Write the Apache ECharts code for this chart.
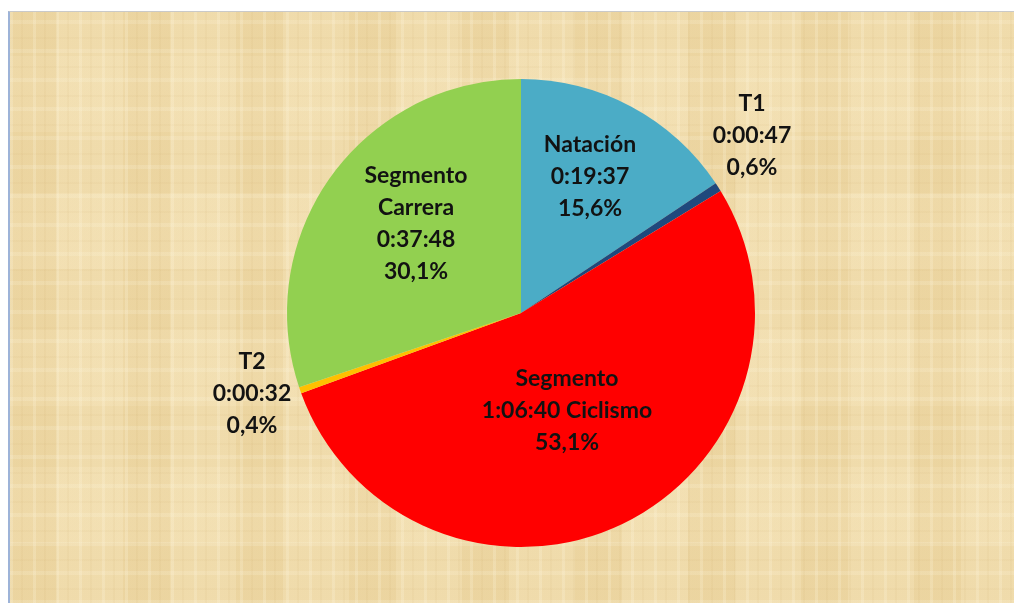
<!DOCTYPE html>
<html>
<head>
<meta charset="utf-8">
<script src="https://cdn.jsdelivr.net/npm/echarts@6/dist/echarts.min.js"></script>
<style>
  html, body { margin: 0; padding: 0; background: #ffffff; width: 1014px; height: 603px; overflow: hidden; }
  #frame {
    position: absolute; left: 8px; top: 11px; width: 1006px; height: 592px;
    border-left: 2px solid #9db3d8; border-top: 1px solid #c9c9c9;
    background-color: #efdbab;
    background-image:
      repeating-linear-gradient(90deg, rgba(255,248,225,0.22) 0px, rgba(255,248,225,0.22) 3px, rgba(0,0,0,0) 3px, rgba(0,0,0,0) 11px, rgba(190,150,80,0.06) 11px, rgba(190,150,80,0.06) 13px, rgba(0,0,0,0) 13px, rgba(0,0,0,0) 23px),
      repeating-linear-gradient(0deg, rgba(255,248,225,0.18) 0px, rgba(255,248,225,0.18) 4px, rgba(0,0,0,0) 4px, rgba(0,0,0,0) 14px, rgba(190,150,80,0.05) 14px, rgba(190,150,80,0.05) 16px, rgba(0,0,0,0) 16px, rgba(0,0,0,0) 29px),
      repeating-linear-gradient(90deg, rgba(228,198,135,0.18) 0px, rgba(228,198,135,0.18) 47px, rgba(250,234,195,0.18) 47px, rgba(250,234,195,0.18) 113px),
      repeating-linear-gradient(0deg, rgba(228,198,135,0.14) 0px, rgba(228,198,135,0.14) 61px, rgba(250,234,195,0.14) 61px, rgba(250,234,195,0.14) 137px);
  }
  #chart { position: absolute; left: 0; top: 0; width: 1006px; height: 592px; }
</style>
</head>
<body>
<div id="frame"><div id="chart"></div></div>
<script>
// ---- data ----
var categories = ["Natación", "T1", "Ciclismo", "T2", "Carrera"];
var times = ["0:19:37", "0:00:47", "1:06:40", "0:00:32", "0:37:48"];
var percentLabels = ["15,6%", "0,6%", "53,1%", "0,4%", "30,1%"];
var labelTitles = ["Natación", "T1", "Segmento", "T2", "Segmento\nCarrera"];
var colors = ["#4bacc6", "#1f497d", "#ff0000", "#ffc000", "#92d050"];

function toSeconds(t) {
  var p = t.split(":").map(Number);
  return p[0] * 3600 + p[1] * 60 + p[2];
}

function labelText(i) {
  if (i === 2) return labelTitles[i] + "\n" + times[i] + " Ciclismo\n" + percentLabels[i];
  return labelTitles[i] + "\n" + times[i] + "\n" + percentLabels[i];
}

// label anchor points (layout only, container coordinates)
var labelAnchors = [[580, 165], [742, 124], [557, 399], [242, 382], [406, 212]];

var chart = echarts.init(document.getElementById("chart"), null, { renderer: "canvas" });
chart.setOption({
  animation: false,
  backgroundColor: "transparent",
  series: [{
    type: "pie",
    center: [511, 301],
    radius: [0, 234],
    startAngle: 90,
    clockwise: true,
    avoidLabelOverlap: false,
    label: {
      show: true,
      position: "inside",
      fontFamily: "Lato",
      fontWeight: "bold",
      fontSize: 23,
      lineHeight: 32,
      color: "#121212",
      align: "center",
      formatter: function (p) { return labelText(p.dataIndex); }
    },
    labelLine: { show: false },
    labelLayout: function (p) {
      var a = labelAnchors[p.dataIndex];
      return { x: a[0], y: a[1], align: "center", verticalAlign: "middle" };
    },
    itemStyle: { borderWidth: 0 },
    emphasis: { disabled: true },
    data: categories.map(function (c, i) {
      return { name: c, value: toSeconds(times[i]), itemStyle: { color: colors[i] } };
    })
  }]
});
</script>
</body>
</html>
